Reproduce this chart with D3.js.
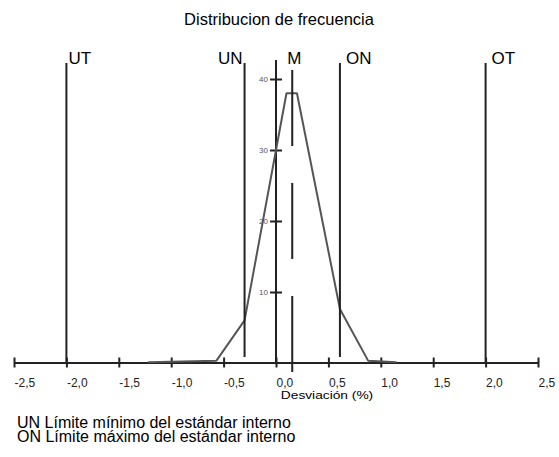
<!DOCTYPE html>
<html>
<head>
<meta charset="utf-8">
<script src="https://cdn.jsdelivr.net/npm/d3@7"></script>
<style>
  body { margin: 0; background: #fff; }
  svg { display: block; font-family: "Liberation Sans", Arial, sans-serif; }
</style>
</head>
<body>
<svg id="chart" width="559" height="457"></svg>
<script>
// frequency curve (deviation in %, count)
const curveX = [-1.22, -0.57, -0.30, 0.10, 0.20, 0.61, 0.88, 1.15];
const curveY = [0.1, 0.3, 6, 38, 38, 7.6, 0.3, 0.1];

// limit lines
const limitNames = ["UT", "UN", "M", "ON", "OT"];
const limitValues = [-2.0, -0.3, 0.155, 0.61, 2.0];

const xTicks = [-2.5, -2.0, -1.5, -1.0, -0.5, 0.0, 0.5, 1.0, 1.5, 2.0, 2.5];
const yTicks = [10, 20, 30, 40];

const legendLines = [
    "UN Límite mínimo del estándar interno",
    "ON Límite máximo del estándar interno"
];

var svg = d3.select("#chart");
const width = +svg.attr("width");
const height = +svg.attr("height");

//plot frame
const plotLeft = 14, plotRight = 538;
const plotTop = 60, axisY = 363;

const xScale = d3.scaleLinear().domain([-2.5, 2.5]).range([plotLeft, plotRight]);
const yScale = d3.scaleLinear().domain([0, 40]).range([axisY, 79]);

const fmt = (d) => d3.format(".1f")(d).replace(".", ",").replace("−", "-");

//title
svg.append("text")
    .attr("x", 279)
    .attr("y", 25)
    .attr("text-anchor", "middle")
    .style("font-size", "16.5px")
    .text("Distribucion de frecuencia");

//x axis, ticks cross the line
var bottomAxis = d3.axisBottom(xScale)
    .tickValues(xTicks)
    .tickSizeOuter(0)
    .tickFormat(fmt);
var gx = svg.append("g")
    .attr("transform", "translate(0," + (axisY - 0.5) + ")")
    .call(bottomAxis);
gx.select(".domain").attr("stroke", "#222").attr("stroke-width", 2);
gx.selectAll(".tick line").attr("y1", -5).attr("y2", 5).attr("stroke", "#222").attr("stroke-width", 2);
gx.selectAll(".tick text")
    .attr("text-anchor", "start")
    .attr("y", 16)
    .attr("fill", "#222")
    .style("font-size", "12px")
    .style("font-family", "Liberation Sans, Arial, sans-serif");

//x axis label (the original text is stretched sideways)
svg.append("text")
    .attr("transform", "translate(327,399) scale(1.25,1)")
    .attr("text-anchor", "middle")
    .style("font-size", "11px")
    .text("Desviación (%)");

//y axis sits at deviation 0
var leftAxis = d3.axisLeft(yScale).tickValues(yTicks).tickSizeOuter(0);
var gy = svg.append("g")
    .attr("transform", "translate(" + xScale(0) + ",0)")
    .call(leftAxis);
gy.select(".domain").remove();
gy.append("line")
    .attr("y1", plotTop).attr("y2", axisY)
    .attr("stroke", "#222").attr("stroke-width", 2);
gy.selectAll(".tick line").attr("x1", -6).attr("x2", 6).attr("stroke", "#222").attr("stroke-width", 2);
gy.selectAll(".tick text")
    .attr("x", -8)
    .attr("fill", "#556")
    .style("font-size", "8px");

//frequency curve
var line = d3.line()
    .x((d) => xScale(d[0]))
    .y((d) => yScale(d[1]));
svg.append("path")
    .datum(d3.zip(curveX, curveY))
    .attr("d", line)
    .attr("fill", "none")
    .attr("stroke", "#555")
    .attr("stroke-width", 2)
    .attr("stroke-linejoin", "bevel");

//limit lines and labels
limitNames.forEach((name, i) => {
    let x = xScale(limitValues[i]);
    let isMean = name == "M";
    let isInner = name == "UN" || name == "ON";
    svg.append("line")
        .attr("x1", x).attr("x2", x)
        .attr("y1", isMean ? 70 : 63)
        .attr("y2", isMean ? 376 : (isInner ? 357 : axisY))
        .attr("stroke", "#222")
        .attr("stroke-width", 2)
        .attr("stroke-dasharray", isMean ? "76,37" : null);

    var anchor = name == "UN" ? "end" : (isMean ? "middle" : "start");
    var dx = name == "UN" ? -2 : (isMean ? 2 : (name == "UT" ? 2 : 6));
    svg.append("text")
        .attr("x", x + dx)
        .attr("y", 64)
        .attr("text-anchor", anchor)
        .style("font-size", "17px")
        .text(name);
});

//legend under the chart
svg.selectAll(".legend")
    .data(legendLines)
    .enter()
    .append("text")
    .attr("class", "legend")
    .attr("x", 17)
    .attr("y", (d, i) => 428 + i * 13.5)
    .style("font-size", "16px")
    .text((d) => d);
</script>
</body>
</html>
